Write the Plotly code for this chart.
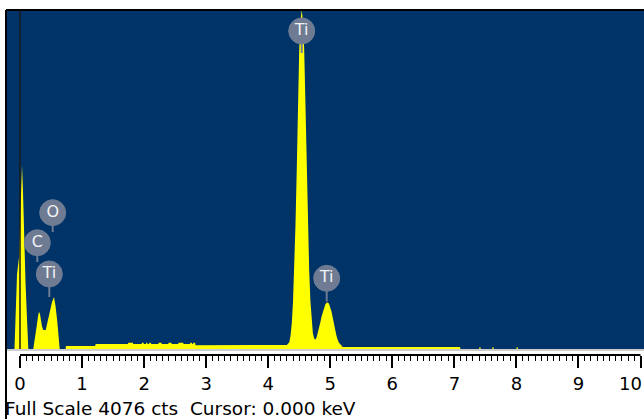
import plotly.graph_objects as go

# ---------------- data ----------------
# low-energy region: noise peak at 0 keV, C K, O K / Ti L
low_energy = [-0.22, -0.089, -0.073, -0.048, -0.016, 0.008, 0.024, 0.032, 0.048, 0.064,
              0.089, 0.105, 0.121, 0.134, 0.214, 0.242, 0.274, 0.290, 0.306, 0.322,
              0.338, 0.355, 0.375, 0.414, 0.440, 0.483, 0.516, 0.548, 0.572, 0.601,
              0.620, 0.640, 0.735]
low_counts = [0, 0, 350, 900, 1100, 1600, 2100, 2210, 1900, 1300,
              800, 500, 150, 0, 0, 120, 300, 390, 447, 420,
              340, 270, 228, 228, 312, 447, 565, 625, 520, 330,
              150, 0, 0]

# background continuum 0.74 - 4.3 keV
bg_energy = [0.740, 1.210, 1.220, 1.740, 1.745, 1.820, 1.825, 1.960, 1.965, 1.990,
             1.995, 2.030, 2.035, 2.050, 2.055, 2.080, 2.085, 2.110, 2.115, 2.230,
             2.235, 2.280, 2.285, 2.390, 2.395, 2.440, 2.445, 2.550, 2.555, 2.630,
             2.635, 2.740, 2.745, 2.770, 2.775, 2.790, 2.795, 2.820, 2.830]
bg_counts = [36, 36, 60, 60, 76, 76, 60, 60, 76, 76,
             60, 60, 76, 76, 60, 60, 76, 76, 60, 60,
             76, 76, 60, 60, 76, 76, 60, 60, 76, 76,
             60, 60, 76, 76, 60, 60, 76, 76, 45]

# Ti K alpha / K beta
ti_energy = [4.30, 4.34, 4.36, 4.38, 4.40, 4.42, 4.44, 4.46, 4.48, 4.50,
             4.52, 4.54, 4.56, 4.58, 4.60, 4.62, 4.64, 4.66, 4.68, 4.70,
             4.72, 4.74, 4.76, 4.78, 4.80, 4.82, 4.84, 4.86, 4.88, 4.90,
             4.92, 4.94, 4.96, 4.98, 5.00, 5.02, 5.04, 5.06, 5.08, 5.10,
             5.12, 5.14, 5.17]
ti_counts = [48, 80, 160, 310, 570, 960, 1500, 2150, 2950, 3600,
             3950, 4076, 3950, 3600, 2950, 2150, 1500, 960, 580, 330,
             190, 130, 110, 140, 190, 250, 320, 390, 450, 500,
             535, 555, 560, 545, 505, 450, 380, 300, 225, 160,
             110, 75, 50]

# high-energy tail
tail_energy = [5.20, 7.09, 7.10, 7.40, 7.405, 7.42, 7.425, 7.61, 7.615, 7.63, 7.635,
               8.00, 8.005, 8.02, 8.025, 10.06]
tail_counts = [25, 25, 0, 0, 20, 20, 0, 0, 20, 20, 0,
               0, 20, 20, 0, 0]

# peak labels
label_names = ["Ti", "Ti", "O", "C", "Ti"]
label_energy = [4.54, 4.943, 0.527, 0.279, 0.472]
label_counts = [3824, 850, 1639, 1278, 902]
stem_counts = [3559, 571, 1407, 1046, 625]

tick_values = [0, 1, 2, 3, 4, 5, 6, 7, 8, 9, 10]
tick_labels = ["0", "1", "2", "3", "4", "5", "6", "7", "8", "9", "10"]
full_scale = 4076
footer_text = "Full Scale 4076 cts\u00a0\u00a0Cursor: 0.000 keV"

# ---------------- figure ----------------
energy = low_energy + bg_energy + ti_energy + tail_energy
counts = low_counts + bg_counts + ti_counts + tail_counts

BLUE = "#003468"
YELLOW = "#ffff00"
LABEL = "#6e7b93"
FONT = "DejaVu Sans"

fig = go.Figure()
fig.add_trace(go.Scatter(
    x=energy, y=counts, mode="lines", fill="tozeroy",
    fillcolor=YELLOW, line=dict(color=YELLOW, width=0),
    hoverinfo="skip", showlegend=False))

# stems of labels
for e, c0, c1 in zip(label_energy, label_counts, stem_counts):
    fig.add_trace(go.Scatter(
        x=[e, e], y=[c0, c1], mode="lines",
        line=dict(color=LABEL, width=2), hoverinfo="skip", showlegend=False))

fig.add_trace(go.Scatter(
    x=label_energy, y=label_counts, mode="markers+text",
    text=label_names, textposition="middle center",
    textfont=dict(family=FONT, size=16, color="#f2f2f2"),
    marker=dict(size=26, color=LABEL, line=dict(color=LABEL, width=1)),
    hoverinfo="skip", showlegend=False))

W, H = 644, 419
ml, mr, mt, mb = 6, 0, 10, 64
plot_h = H - mt - mb
px_per_kev = 62.05
x_lo = (ml - 20) / px_per_kev
x_hi = (W - 20) / px_per_kev
y_lo = -6 * full_scale / 339.0

minor_vals = [i / 10 for i in range(1, 100) if i % 10 != 0]

# last label ("10") sits at the page edge; drawn as an annotation kept inside the page
axis_text = tick_labels[:-1] + [""]

fig.update_layout(
    width=W, height=H,
    margin=dict(l=ml, r=mr, t=mt, b=mb, pad=0),
    paper_bgcolor="white", plot_bgcolor=BLUE,
    font=dict(family=FONT, color="black"),
    xaxis=dict(range=[x_lo, x_hi], showgrid=False, zeroline=False, showline=False,
               tickmode="array", tickvals=tick_values, ticktext=axis_text,
               ticks="outside", ticklen=12, tickwidth=2, tickcolor="black",
               tickfont=dict(family=FONT, size=18, color="black"),
               minor=dict(tickmode="array", tickvals=minor_vals, ticks="outside",
                          ticklen=5, tickwidth=1, tickcolor="black", showgrid=False),
               fixedrange=True),
    yaxis=dict(range=[y_lo, full_scale], visible=False, fixedrange=True),
)

strip = 6 / plot_h
shapes = [
    dict(type="rect", xref="paper", yref="paper", x0=0, x1=1, y0=0, y1=strip,
         fillcolor="white", line=dict(width=0), layer="above"),
    dict(type="line", xref="paper", yref="paper", x0=0, x1=1, y0=strip - 1 / plot_h,
         y1=strip - 1 / plot_h, line=dict(color="#9a9a9a", width=1), layer="above"),
    dict(type="line", xref="x", yref="paper", x0=0, x1=10, y0=0, y1=0,
         line=dict(color="black", width=2), layer="above"),
    dict(type="line", xref="x", yref="y", x0=0, x1=0, y0=0, y1=full_scale,
         line=dict(color="#1a1a1a", width=1.5), layer="above"),
    dict(type="line", xref="paper", yref="paper", x0=0, x1=0, y0=1, y1=-(H - mt - plot_h) / plot_h,
         line=dict(color="black", width=2), layer="above"),
    dict(type="line", xref="paper", yref="paper", x0=0, x1=1, y0=1, y1=1,
         line=dict(color="black", width=2), layer="above"),
]
fig.update_layout(shapes=shapes)

fig.add_annotation(text=tick_labels[-1], xref="paper", yref="paper",
                   x=1, y=-(383 - 355) / plot_h, xanchor="right", yanchor="middle",
                   showarrow=False, font=dict(family=FONT, size=18, color="black"))

fig.add_annotation(text=footer_text, xref="paper", yref="paper",
                   x=-3 / (W - ml), y=-(408 - 355) / plot_h, xanchor="left", yanchor="middle",
                   showarrow=False, font=dict(family=FONT, size=18.5, color="black"))

fig.write_html("out.html")
